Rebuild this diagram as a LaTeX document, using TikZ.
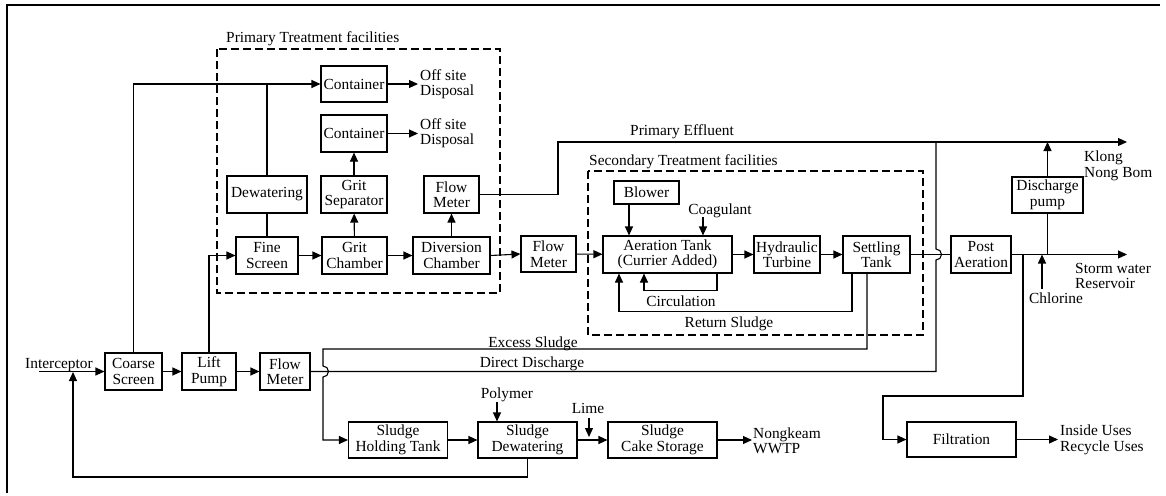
\documentclass[tikz,border=0pt]{standalone}
\usepackage{fontspec}
\setmainfont{Liberation Serif}
\usetikzlibrary{arrows.meta}
\begin{document}
\begin{tikzpicture}[x=1pt,y=-1pt,
  every node/.style={font=\fontsize{15.4}{15.5}\selectfont, inner sep=0pt},
  box/.style={draw, line width=1.1pt, align=center},
  wh/.style 2 args={minimum width=#1, minimum height=#2},
  lbl/.style={align=left},
  flow/.style={line width=1.1pt},
  arr/.style={flow, -{Triangle[length=9pt,width=8pt]}},
  zone/.style={line width=1.1pt, dash pattern=on 8pt off 4pt},
  jumpdown/.style={},
]
\useasboundingbox (0,0) rectangle (1166,495);

% page border (top and left edges)
\draw[line width=2.3pt] (7,493) -- (7,5) -- (1160,5);

% facility zones
\draw[zone] (217,49) rectangle (500,293);
\node[anchor=base west] (ptf) at (226,42) {Primary Treatment facilities};
\draw[zone] (588,171) rectangle (923,335);
\node[anchor=base west] (stf) at (589,165) {Secondary Treatment facilities};

% primary treatment units
\node[box, wh={66}{36}] (cont1) at (354,84) {Container};
\node[box, wh={66}{37}] (cont2) at (354,133.5) {Container};
\node[box, wh={80}{37}] (dewat) at (267,194.5) {Dewatering};
\node[box, wh={66}{37}] (gritsep) at (354,194.5) {Grit\\Separator};
\node[box, wh={62}{37}] (fine) at (267,255.5) {Fine\\Screen};
\node[box, wh={65}{37}] (gritch) at (354.5,255.5) {Grit\\Chamber};
\node[box, wh={77}{37}] (divch) at (451.5,255.5) {Diversion\\Chamber};
\node[box, wh={55}{37}] (fm1) at (451.5,194.5) {Flow\\Meter};
\node[lbl, anchor=west] (off1) at (420,84) {Off site\\Disposal};
\node[lbl, anchor=west] (off2) at (420,133) {Off site\\Disposal};

% secondary treatment units
\node[box, wh={55}{36}] (fm2) at (548.5,254) {Flow\\Meter};
\node[box, wh={65}{23}] (blower) at (646.5,192.5) {Blower};
\node[box, wh={129}{37}] (aer) at (667.5,254.5) {Aeration Tank\\(Currier Added)};
\node[box, wh={66}{37}] (hyd) at (787,254.5) {Hydraulic\\Turbine};
\node[box, wh={67}{37}] (settle) at (876.5,254.5) {Settling\\Tank};
\node[box, wh={60}{37}] (post) at (981,254.5) {Post\\Aeration};
\node[box, wh={71}{36}] (dpump) at (1047.5,195) {Discharge\\pump};

% inlet and sludge line units
\node[box, wh={57}{37}] (coarse) at (133.5,371.5) {Coarse\\Screen};
\node[box, wh={54}{37}] (lift) at (209,371.5) {Lift\\Pump};
\node[box, wh={50}{37}] (fm3) at (285,371.5) {Flow\\Meter};
\node[box, wh={99}{36}] (holding) at (398,440) {Sludge\\Holding Tank};
\node[box, wh={99}{36}] (sdew) at (527.5,440) {Sludge\\Dewatering};
\node[box, wh={109}{36}] (cake) at (662.5,440) {Sludge\\Cake Storage};
\node[box, wh={109}{35}] (filt) at (961.5,439.5) {Filtration};

% free labels
\node[anchor=base] (intc) at (59,368) {Interceptor};
\node[anchor=base] (pe) at (682,135) {Primary Effluent};
\node[anchor=base] (coagl) at (720,214) {Coagulant};
\node[anchor=base] (circl) at (681,306) {Circulation};
\node[anchor=base] (retl) at (729,327) {Return Sludge};
\node[anchor=base] (excl) at (533,347) {Excess Sludge};
\node[anchor=base] (dirl) at (532,367) {Direct Discharge};
\node[anchor=base] (polyl) at (507,398) {Polymer};
\node[anchor=base] (limel) at (588,413) {Lime};
\node[anchor=base] (chll) at (1056,303) {Chlorine};
\node[lbl, anchor=west] (klong) at (1084,166) {Klong\\Nong Bom};
\node[lbl, anchor=west] (storm) at (1075,276) {Storm water\\Reservoir};
\node[lbl, anchor=west] (uses) at (1060,440) {Inside Uses\\Recycle Uses};
\node[lbl, anchor=west] (nk) at (753,441) {Nongkeam\\WWTP};

% connector end points
\coordinate (inS) at (39,371.5);
\coordinate (off1E) at (418,84);
\coordinate (off2E) at (418,133.5);
\coordinate (coag) at (703,217);
\coordinate (klongE) at (1127,142);
\coordinate (stormE) at (1127,254.5);
\coordinate (chlS) at (1042,289);
\coordinate (usesE) at (1058,439.5);
\coordinate (nkE) at (752,440);
\coordinate (polyS) at (497,402);
\coordinate (limeS) at (589,418);

% inlet works
\draw[arr] (inS) -- (coarse.west);
\draw[arr] (coarse) -- (lift);
\draw[arr] (lift) -- (fm3);
\draw[arr] (coarse.north) |- (cont1.west);
\draw[flow] (dewat.north) -- (dewat.north |- cont1.west);
\draw[flow] (dewat.south) -- (fine.north);
\draw[arr] (lift.north) |- (fine.west);

% primary treatment
\draw[arr] (fine) -- (gritch);
\draw[arr] (gritch) -- (divch);
\draw[arr] (gritch) -- (gritsep);
\draw[arr] (gritsep) -- (cont2);
\draw[arr] (cont1.east) -- (off1E);
\draw[arr] (cont2.east) -- (off2E);
\draw[arr] (divch) -- (fm1);
\draw[arr] (divch.east) -- (fm2.west);
\draw[arr] (fm1.east) -| (558,142) -- (klongE);

% secondary treatment
\draw[arr] (fm2) -- (aer);
\draw[arr] ([xshift=-17.5pt]blower.south) -- ([xshift=-17.5pt]blower.south |- aer.north);
\draw[arr] (coag) -- (coag |- aer.north);
\draw[arr] (aer) -- (hyd);
\draw[arr] (hyd) -- (settle);
\draw[arr] ([xshift=49.5pt]aer.south) -- ++(0,17) -| ([xshift=-23.5pt]aer.south);
\draw[arr] ([xshift=-24.5pt]settle.south) -- ++(0,38) -| ([xshift=-48.5pt]aer.south);
\draw[flow] (settle.east) -- (post.west);

% excess sludge to the sludge line, hopping over the direct discharge
\draw[arr] ([xshift=-9.5pt]settle.south) |- (323,349) -- (323,366)
  arc[start angle=90, end angle=-90, radius=5.5pt] |- (holding.west);

% direct discharge, hopping over the settling tank outlet
\draw[flow] (fm3.east) -- (936,371.5) -- (936,260)
  arc[start angle=-90, end angle=90, radius=5.5pt] -- (936,142);

% effluent
\draw[arr] (post.east) -- (stormE);
\draw[flow] (dpump.south |- post.east) -- (dpump.south);
\draw[arr] (dpump.north) -- (dpump.north |- klongE);
\draw[arr] (chlS) -- (chlS |- post.east);
\draw[arr] (1023,254.5) |- (883,396) |- (filt.west);
\draw[arr] (filt.east) -- (usesE);

% sludge line
\draw[arr] (holding) -- (sdew);
\draw[arr] (sdew) -- (cake);
\draw[arr] (cake.east) -- (nkE);
\draw[arr] (polyS) -- (polyS |- sdew.north);
\draw[arr] (limeS) -- ++(0,19);
\draw[arr] (sdew.south) |- (73,477) -- (73,372);
\end{tikzpicture}
\end{document}
